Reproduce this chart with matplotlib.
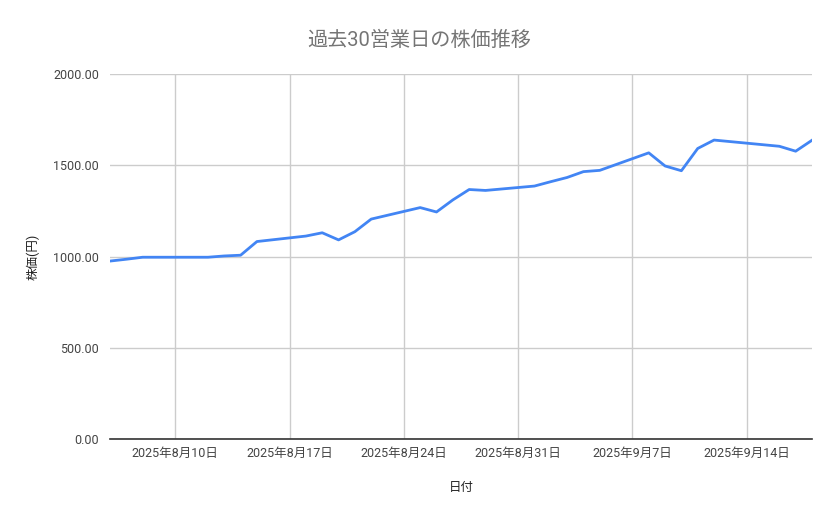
import datetime as dt
import matplotlib
matplotlib.use("Agg")
import matplotlib.pyplot as plt
from matplotlib.ticker import FuncFormatter, MultipleLocator

plt.rcParams['font.family'] = ['Roboto', 'Noto Sans CJK JP', 'DejaVu Sans']

# 30 business days (weekends and 8/11, 9/15 holidays skipped)
dates = [
    "2025-08-06", "2025-08-07", "2025-08-08",
    "2025-08-12", "2025-08-13", "2025-08-14", "2025-08-15",
    "2025-08-18", "2025-08-19", "2025-08-20", "2025-08-21", "2025-08-22",
    "2025-08-25", "2025-08-26", "2025-08-27", "2025-08-28", "2025-08-29",
    "2025-09-01", "2025-09-02", "2025-09-03", "2025-09-04", "2025-09-05",
    "2025-09-08", "2025-09-09", "2025-09-10", "2025-09-11", "2025-09-12",
    "2025-09-16", "2025-09-17", "2025-09-18",
]
prices = [
    975, 985, 996,
    996, 1003, 1007, 1082,
    1112, 1130, 1091, 1136, 1205,
    1268, 1244, 1310, 1367, 1362,
    1386, 1410, 1433, 1465, 1472,
    1568, 1496, 1470, 1592, 1638,
    1604, 1577, 1637,
]
tick_dates = ["2025-08-10", "2025-08-17", "2025-08-24", "2025-08-31", "2025-09-07", "2025-09-14"]

x = [dt.datetime.strptime(d, "%Y-%m-%d") for d in dates]
ticks = [dt.datetime.strptime(d, "%Y-%m-%d") for d in tick_dates]

fig = plt.figure(figsize=(8.39, 5.19), dpi=100)
ax = fig.add_axes([110 / 839, 1 - 439 / 519, 702 / 839, 365 / 519])

ax.plot(x, prices, color='#4285F4', linewidth=2, solid_joinstyle='round')

ax.set_xlim(x[0], x[-1])
ax.set_ylim(0, 2000)
ax.yaxis.set_major_locator(MultipleLocator(500))
ax.yaxis.set_major_formatter(FuncFormatter(lambda v, p: f"{v:.2f}"))
ax.set_xticks(ticks)
ax.set_xticklabels([f"{t.year}年{t.month}月{t.day}日" for t in ticks])

ax.grid(True, color='#cccccc', linewidth=1)
ax.set_axisbelow(True)
for s in ['top', 'right', 'left']:
    ax.spines[s].set_visible(False)
ax.spines['bottom'].set_color('#333333')
ax.spines['bottom'].set_linewidth(1.2)
ax.spines['bottom'].set_zorder(3)
ax.tick_params(length=0, labelsize=9, labelcolor='#444444')
ax.tick_params(axis='x', pad=6)
ax.tick_params(axis='y', pad=8)

fig.text(0.5, 1 - 40 / 519, "過去30営業日の株価推移", fontsize=14.5, color='#757575',
         ha='center', va='center')
ax.set_xlabel("日付", fontsize=9, color='#222222', labelpad=15)
ax.set_ylabel("株価(円)", fontsize=9, color='#222222', labelpad=10)

fig.savefig("out.png", dpi=100)
